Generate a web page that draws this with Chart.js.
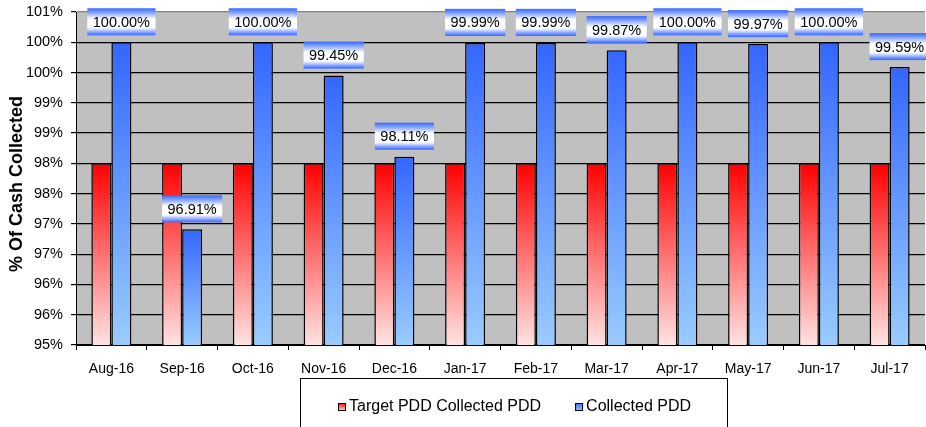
<!DOCTYPE html>
<html>
<head>
<meta charset="utf-8">
<script src="https://cdn.jsdelivr.net/npm/chart.js@4.4.0/dist/chart.umd.min.js"></script>
<style>
  body { margin: 0; background: #fff; }
  canvas { display: block; }
</style>
</head>
<body>
<canvas id="chart-1" width="926" height="427"></canvas>
<script>
const months = ['Aug-16', 'Sep-16', 'Oct-16', 'Nov-16', 'Dec-16', 'Jan-17', 'Feb-17', 'Mar-17', 'Apr-17', 'May-17', 'Jun-17', 'Jul-17'];
const targetPdd = [98, 98, 98, 98, 98, 98, 98, 98, 98, 98, 98, 98];
const collectedPdd = [100.00, 96.91, 100.00, 99.45, 98.11, 99.99, 99.99, 99.87, 100.00, 99.97, 100.00, 99.59];
const yTickLabels = ['95%', '96%', '96%', '97%', '97%', '98%', '98%', '99%', '99%', '100%', '100%', '101%'];
const seriesNames = ['Target PDD Collected PDD', 'Collected PDD'];
const yTitle = '% Of Cash Collected';

const FONT = 'Liberation Sans, Arial, sans-serif';
Chart.defaults.font.family = FONT;
Chart.defaults.color = '#000';

const RED = ['#FF0000', '#FFE2E2'];
const BLUE = ['#3366FF', '#99CCFF'];

function barGradient(cols) {
    return function (c) {
        const chart = c.chart;
        if (!chart.chartArea || c.raw == null) return cols[0];
        const y = chart.scales.y;
        const g = chart.ctx.createLinearGradient(0, y.getPixelForValue(c.raw), 0, y.getPixelForValue(y.min));
        g.addColorStop(0, cols[0]);
        g.addColorStop(1, cols[1]);
        return g;
    };
}

// grey plot background
const plotBg = {
    id: 'plotBg',
    beforeDraw(chart) {
        const a = chart.chartArea, ctx = chart.ctx;
        ctx.save();
        ctx.fillStyle = '#C0C0C0';
        ctx.fillRect(a.left, a.top, a.right - a.left, a.bottom - a.top);
        ctx.restore();
    }
};

// value boxes above the collected bars
const valueBoxes = {
    id: 'valueBoxes',
    afterDatasetsDraw(chart) {
        const ctx = chart.ctx;
        const meta = chart.getDatasetMeta(1);
        ctx.save();
        ctx.font = '14.5px ' + FONT;
        ctx.textAlign = 'center';
        ctx.textBaseline = 'middle';
        meta.data.forEach((bar, i) => {
            const txt = collectedPdd[i].toFixed(2) + '%';
            const w = ctx.measureText(txt).width + 11;
            const h = 27;
            const bottom = bar.y - 7;
            const top = bottom - h;
            const g = ctx.createLinearGradient(0, top, 0, bottom);
            g.addColorStop(0, '#3366FF');
            g.addColorStop(0.4, '#FFFFFF');
            g.addColorStop(0.72, '#FFFFFF');
            g.addColorStop(1, '#3366FF');
            ctx.fillStyle = g;
            ctx.fillRect(bar.x - w / 2, top, w, h);
            ctx.fillStyle = '#000';
            ctx.fillText(txt, bar.x, top + h / 2 + 1);
        });
        ctx.restore();
    }
};

// boxed legend + axis title
const extras = {
    id: 'extras',
    afterDraw(chart) {
        const ctx = chart.ctx;
        ctx.save();
        // y title
        ctx.font = 'bold 18px ' + FONT;
        ctx.textAlign = 'center';
        ctx.textBaseline = 'middle';
        ctx.fillStyle = '#000';
        ctx.translate(17, 184);
        ctx.rotate(-Math.PI / 2);
        ctx.fillText(yTitle, 0, 0);
        ctx.restore();

        ctx.save();
        ctx.strokeStyle = '#000';
        ctx.lineWidth = 1;
        ctx.strokeRect(300.5, 378.5, 427, 60);
        ctx.font = '16px ' + FONT;
        ctx.textBaseline = 'middle';
        ctx.fillStyle = '#000';
        const cy = 407;
        let x = 338;
        [RED, BLUE].forEach((cols, i) => {
            const g = ctx.createLinearGradient(0, cy - 4, 0, cy + 4);
            g.addColorStop(0, cols[0]);
            g.addColorStop(1, cols[1]);
            ctx.fillStyle = g;
            ctx.fillRect(x, cy - 4, 8, 8);
            ctx.strokeRect(x + 0.5, cy - 3.5, 7, 7);
            ctx.fillStyle = '#000';
            ctx.fillText(seriesNames[i], x + 11, cy);
            x += 11 + ctx.measureText(seriesNames[i]).width + 34;
        });
        ctx.restore();
    }
};

new Chart(document.getElementById('chart-1').getContext('2d'), {
    type: 'bar',
    data: {
        labels: months,
        datasets: [{
            label: seriesNames[0],
            data: targetPdd,
            backgroundColor: barGradient(RED),
            borderColor: '#000',
            borderWidth: 1.5,
            borderSkipped: false
        }, {
            label: seriesNames[1],
            data: collectedPdd,
            backgroundColor: barGradient(BLUE),
            borderColor: '#000',
            borderWidth: 1.5,
            borderSkipped: false
        }]
    },
    options: {
        responsive: false,
        animation: false,
        layout: { padding: { top: 12, right: 1, left: 0, bottom: 0 } },
        datasets: { bar: { categoryPercentage: 0.566, barPercentage: 1 } },
        plugins: {
            legend: { display: false },
            tooltip: { enabled: false }
        },
        scales: {
            x: {
                offset: true,
                grid: { offset: true, drawOnChartArea: false, drawTicks: true, tickLength: 5, color: '#000' },
                border: { color: '#000', width: 1 },
                ticks: { font: { size: 14 }, color: '#000', padding: 11, maxRotation: 0, autoSkip: false },
                afterFit: s => { s.height = 82; s.paddingLeft = 0; s.paddingRight = 0; }
            },
            y: {
                min: 95,
                max: 100.5,
                grid: {
                    color: c => c.index === yTickLabels.length - 1 ? '#808080' : '#000',
                    tickColor: '#000',
                    tickLength: 5,
                    lineWidth: 1.2
                },
                border: { color: '#000', width: 1 },
                ticks: {
                    stepSize: 0.5,
                    font: { size: 14.5 },
                    color: '#000',
                    padding: 8,
                    callback: (v, i) => yTickLabels[i]
                },
                afterFit: s => { s.width = 76; s.paddingTop = 0; s.paddingBottom = 0; }
            }
        }
    },
    plugins: [plotBg, valueBoxes, extras]
});
</script>
</body>
</html>
